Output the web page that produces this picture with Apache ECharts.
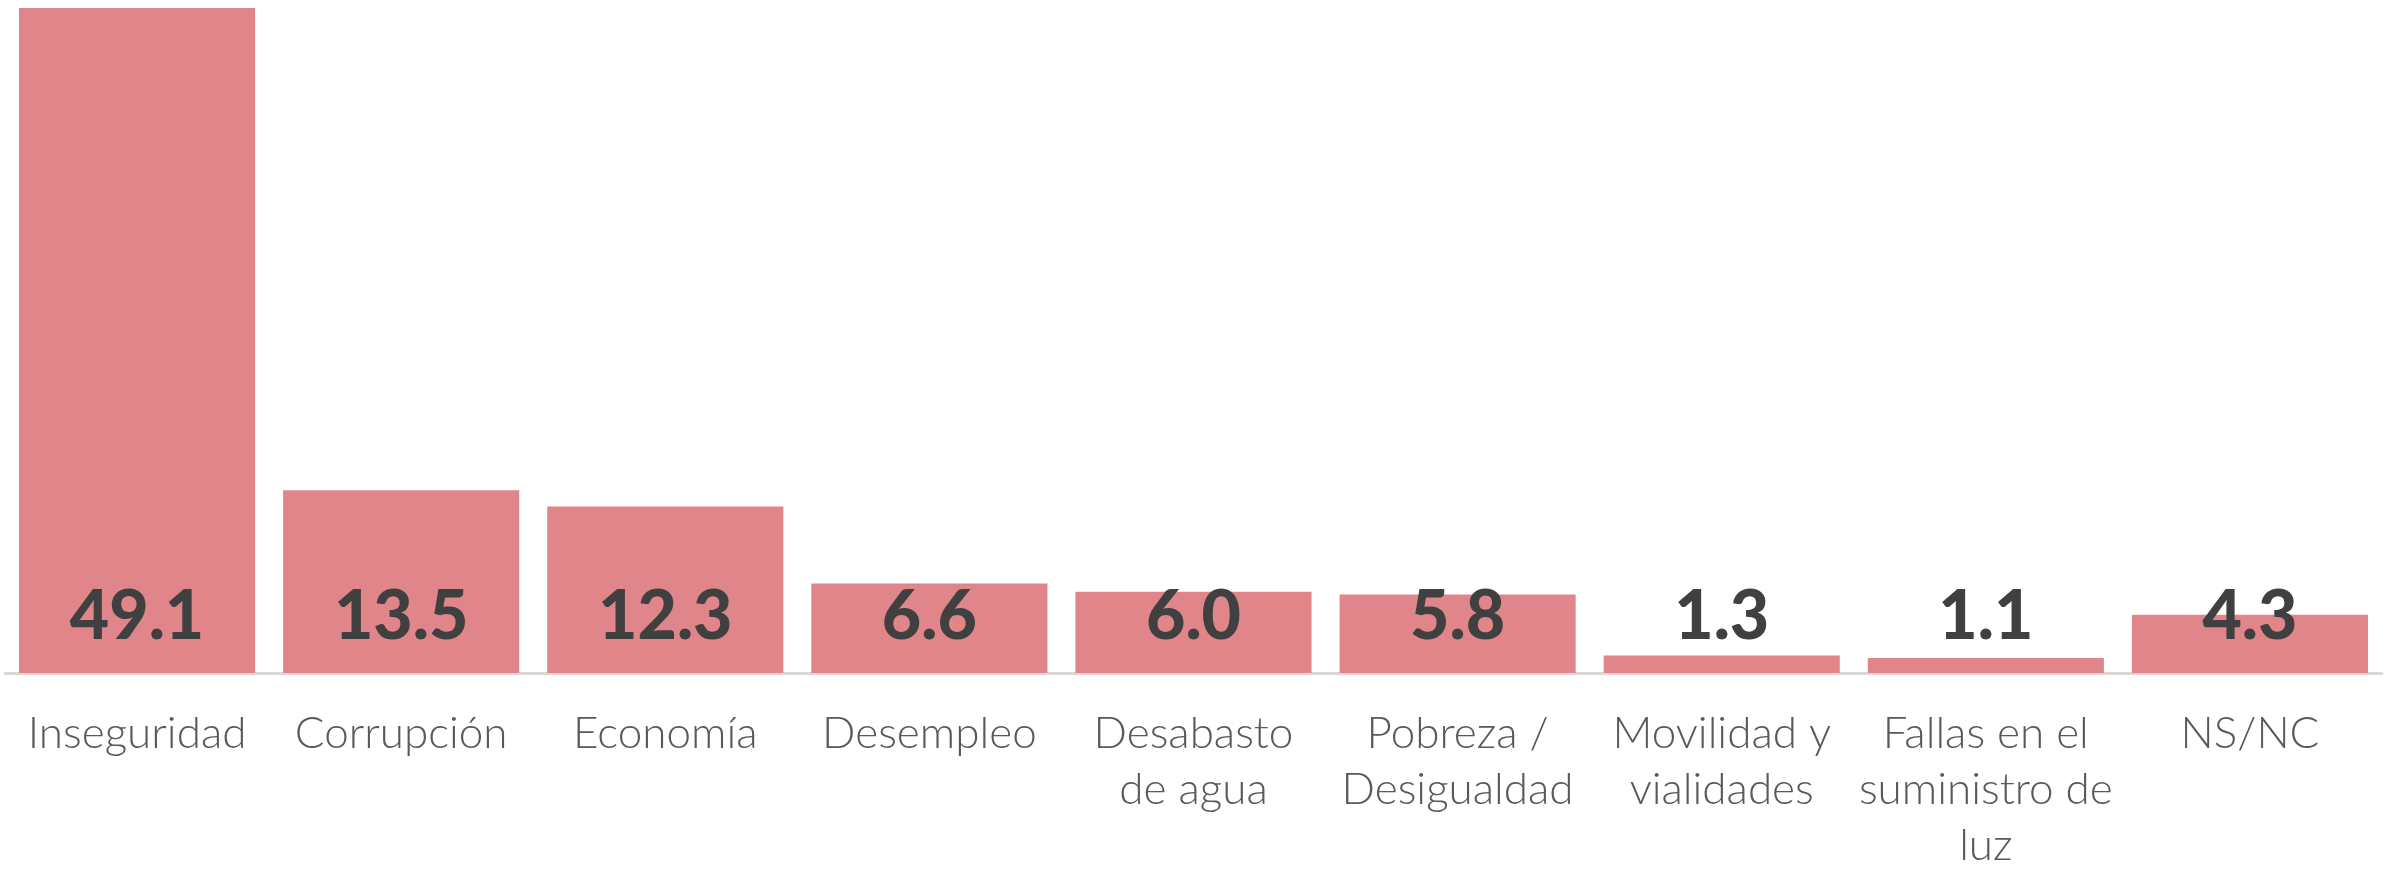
<!DOCTYPE html>
<html>
<head>
<meta charset="utf-8">
<script src="https://cdn.jsdelivr.net/npm/echarts@6/dist/echarts.min.js"></script>
<style>
  html, body { margin: 0; padding: 0; background: #fff; }
  #chart { width: 2392px; height: 869px; }
</style>
</head>
<body>
<div id="chart"></div>
<script>
// categorías (con saltos de línea como en el original)
const categories = [
  'Inseguridad',
  'Corrupción',
  'Economía',
  'Desempleo',
  'Desabasto\nde agua',
  'Pobreza /\nDesigualdad',
  'Movilidad y\nvialidades',
  'Fallas en el\nsuministro de\nluz',
  'NS/NC'
]
// porcentaje
const values = [49.1, 13.5, 12.3, 6.6, 6.0, 5.8, 1.3, 1.1, 4.3]

const chart = echarts.init(document.getElementById('chart'))
const option = {
  animation: false,
  grid: {
    left: 5,
    right: 10,
    top: 8,
    bottom: 196,
    containLabel: false,
    outerBoundsMode: 'none'
  },
  xAxis: {
    type: 'category',
    data: categories,
    axisLine: { lineStyle: { color: '#D9D9D9', width: 3 } },
    axisTick: { show: false },
    axisLabel: {
      interval: 0,
      margin: 33,
      color: '#595959',
      fontFamily: 'Lato',
      fontWeight: 300,
      fontSize: 44,
      lineHeight: 56
    }
  },
  yAxis: {
    type: 'value',
    min: 0,
    max: 'dataMax',
    show: false,
    splitLine: { show: false }
  },
  series: [{
    type: 'bar',
    data: values,
    barCategoryGap: '10.6%',
    itemStyle: { color: '#E0868A' },
    label: {
      show: true,
      position: 'insideBottom',
      distance: 22,
      color: '#404040',
      fontFamily: 'Lato',
      fontWeight: 900,
      fontSize: 68,
      formatter: p => p.value.toFixed(1)
    }
  }]
}
chart.setOption(option)
</script>
</body>
</html>
